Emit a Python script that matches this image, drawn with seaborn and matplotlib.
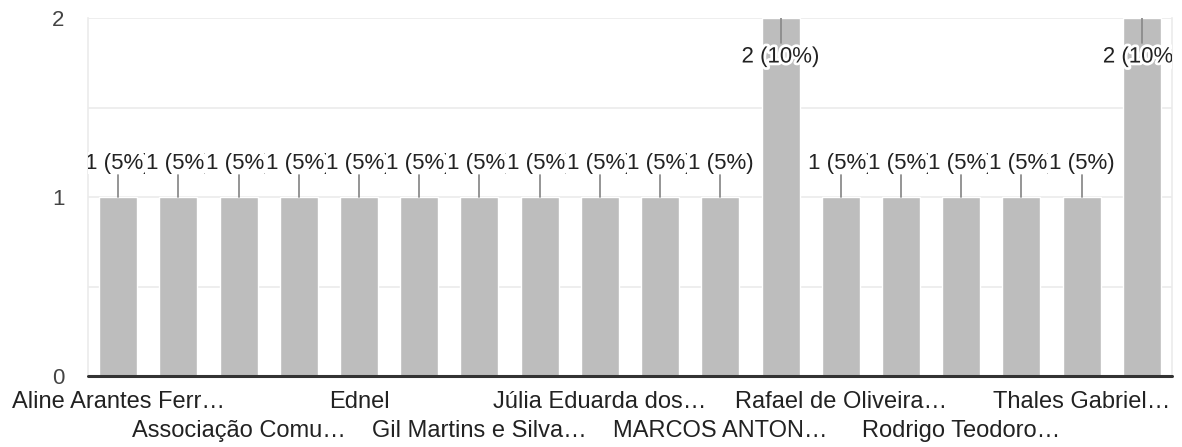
import numpy as np
import pandas as pd
import matplotlib
matplotlib.use('Agg')
import matplotlib.pyplot as plt
import matplotlib.patheffects as pe
import seaborn as sns

# respondents (only every second name is shown on the axis)
names = ['Aline Arantes Ferr…', '', 'Associação Comu…', '', 'Ednel', '',
         'Gil Martins e Silva…', '', 'Júlia Eduarda dos…', '', 'MARCOS ANTON…', '',
         'Rafael de Oliveira…', '', 'Rodrigo Teodoro…', '', 'Thales Gabriel…', '']
counts = [1, 1, 1, 1, 1, 1, 1, 1, 1, 1, 1, 2, 1, 1, 1, 1, 1, 2]
y_ticks = [0, 1, 2]

total = sum(counts)
df = pd.DataFrame({'pos': range(len(counts)), 'name': names, 'count': counts})

sns.set_style('white')
plt.rcParams['font.family'] = ['Liberation Sans', 'DejaVu Sans']

fig = plt.figure(figsize=(11.82, 4.47), dpi=100)
ax = fig.add_axes([0.0745, 0.1588, 0.9915 - 0.0745, 0.9597 - 0.1588])

sns.barplot(data=df, x='pos', y='count', color='#bdbdbd', saturation=1,
            width=0.63, ax=ax, zorder=2)

ax.set_ylim(0, 2)
ax.set_xlim(-0.5, len(counts) - 0.5)
ax.set_yticks(y_ticks)
ax.set_yticks([0.5, 1.5], minor=True)
ax.grid(axis='y', which='both', color='#ebebeb', linewidth=1.2, zorder=0)
for s in ['top', 'bottom']:
    ax.spines[s].set_visible(False)
for s in ['left', 'right']:
    ax.spines[s].set_color('#ebebeb')
    ax.spines[s].set_linewidth(1.2)
ax.axhline(0, color='#333333', linewidth=2.2, zorder=5, clip_on=False)

ax.tick_params(axis='y', which='both', length=0, pad=17, labelsize=16, labelcolor='#444444')
ax.tick_params(axis='x', length=0, labelsize=17, labelcolor='#222222')

shown = [i for i, n in enumerate(names) if n]
ax.set_xticks(shown)
ax.set_xticklabels([names[i] for i in shown])
for k, tk in enumerate(ax.xaxis.get_major_ticks()):
    tk.set_pad(10.5 if k % 2 == 0 else 32)
ax.set_xlabel('')
ax.set_ylabel('')

# value labels (they overlap each other like in the original chart)
ymax = ax.get_ylim()[1]
unit = ymax / (fig.get_figheight() * fig.dpi * (0.9597 - 0.1588))  # data per pixel
for i, c in enumerate(counts):
    txt = f'{c} ({c / total * 100:.0f}%)'
    if c >= ymax:
        ax.plot([i, i], [c, c - 25 * unit], color='#8c8c8c', lw=1.3, zorder=3)
        ax.text(i, c - 39 * unit, txt, ha='center', va='center', fontsize=16,
                color='#222222', zorder=6, clip_on=True,
                path_effects=[pe.withStroke(linewidth=4, foreground='white')])
    else:
        ax.plot([i, i], [c, c + 22 * unit], color='#8c8c8c', lw=1.3, zorder=3)
        ax.text(i, c + 34 * unit, txt, ha='center', va='center', fontsize=16,
                color='#222222', zorder=6, clip_on=True,
                bbox=dict(facecolor='white', edgecolor='none', pad=0.5))

plt.savefig('out.png', dpi=100)
